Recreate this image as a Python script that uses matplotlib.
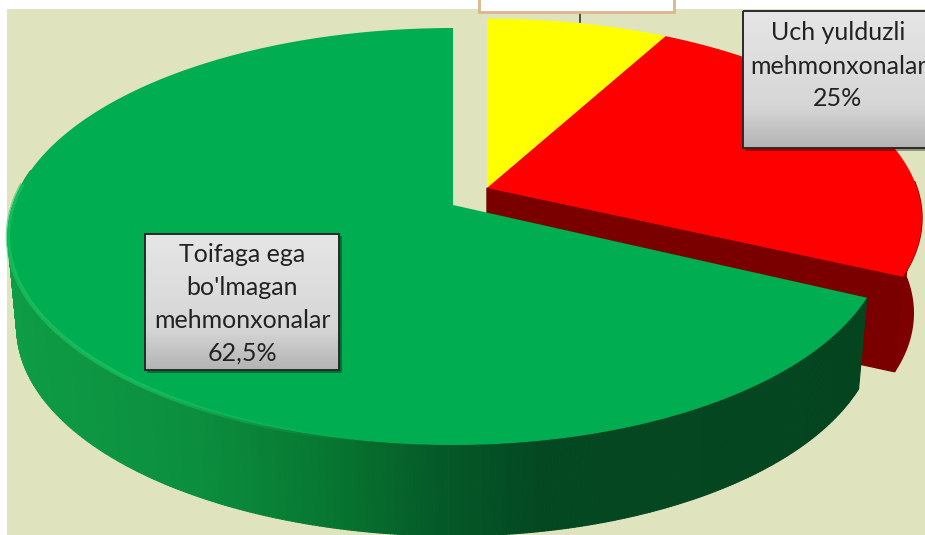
import numpy as np
import matplotlib
matplotlib.use("Agg")
import matplotlib.pyplot as plt
from matplotlib.colors import LinearSegmentedColormap, to_rgb
from matplotlib.patches import Polygon, Rectangle
from matplotlib.collections import PolyCollection, LineCollection

# Slice extents (percent of the drawn turn), clockwise from 12 o'clock
categories = ["Yellow slice", "Uch yulduzli mehmonxonalar", "Toifaga ega bo'lmagan mehmonxonalar"]
drawn_shares = [7.8, 24.2, 68.0]
slice_colors = ["#FFFF00", "#FF0000", "#00AD50"]
label_uch = ["Uch yulduzli", "mehmonxonalar", "25%"]
label_toifa = ["Toifaga ega", "bo'lmagan", "mehmonxonalar", "62,5%"]

W, H = 925, 535
plt.rcParams["font.family"] = ["Lato", "DejaVu Sans"]
fig = plt.figure(figsize=(W / 100, H / 100), dpi=100, facecolor="white")
ax = fig.add_axes([0, 0, 1, 1])
ax.set_axis_off()

K = 0.151
DEPTH = 91
RED_DEPTH = 95
NARROW = 0.98


def project(theta, cx, cy, rl, rr, s):
    t = np.radians(theta)
    u, v = np.cos(t), np.sin(t)
    den = 1 + K * v
    r = np.where(u > 0, rr, rl)
    return cx + r * u / den, cy - s * v / den


def extrude(x, y, cx, depth=DEPTH):
    return cx + (x - cx) * NARROW, y + depth


def arc(a, b, n=240):
    return np.linspace(a, b, n)


edges = 90 - np.cumsum([0] + drawn_shares) * 3.6

ax.add_patch(Rectangle((7, 9), W, H, fc="#DFE4BF", ec="none", zorder=0))

MAIN = dict(cx=487, cy=188, rl=430, rr=430, s=195)
GREEN = dict(cx=453, cy=205, rl=440, rr=428, s=203.7)

# red side walls
th = arc(edges[2], max(edges[1] - 60, 0))
xr, yr = project(th, **MAIN)
bx, by = extrude(xr, yr, MAIN["cx"], RED_DEPTH)
ax.add_patch(Polygon(np.r_[np.c_[xr, yr], np.c_[bx, by][::-1]], fc="#7F0000", ec="#7F0000", zorder=1))
x0, y0 = project(np.array(edges[2]), **MAIN)
bx0, by0 = extrude(x0, y0, MAIN["cx"], RED_DEPTH)
ax.add_patch(Polygon([(MAIN["cx"], MAIN["cy"]), (x0, y0), (bx0, by0), (MAIN["cx"], MAIN["cy"] + RED_DEPTH)],
                     fc="#7A0000", ec="#7A0000", zorder=1))

# yellow and red top faces
for i in (0, 1):
    th = arc(edges[i], edges[i + 1])
    x, y = project(th, **MAIN)
    ax.add_patch(Polygon(np.r_[[(MAIN["cx"], MAIN["cy"])], np.c_[x, y]], fc=slice_colors[i], ec="none", zorder=2))

# green side wall with a left-to-right shade
shade = LinearSegmentedColormap.from_list(
    "side", [(0, "#0E9C46"), (0.22, "#0B8E3E"), (0.38, "#077530"),
             (0.5, "#055A29"), (0.62, "#044822"), (1, "#04451F")])
th = arc(edges[2], -190, 400)
x, y = project(th, **GREEN)
bx, by = extrude(x, y, GREEN["cx"])
quads, cols = [], []
for j in range(len(th) - 1):
    quads.append([(x[j], y[j]), (x[j + 1], y[j + 1]), (bx[j + 1], by[j + 1]), (bx[j], by[j])])
    cols.append(shade(np.clip((x[j] - 8) / 860, 0, 1)))
ax.add_collection(PolyCollection(quads, facecolors=cols, edgecolors=cols, linewidths=0.8, zorder=3))

# green top face
th = arc(edges[2], edges[3], 500)
x, y = project(th, **GREEN)
ax.add_patch(Polygon(np.r_[[(GREEN["cx"], GREEN["cy"])], np.c_[x, y]], fc=slice_colors[2], ec="none", zorder=4))

# pale rim on the front-left edge of the green face
rim = arc(-100, -186, 200)
xr, yr = project(rim, **GREEN)
segs = np.stack([np.c_[xr[:-1], yr[:-1]], np.c_[xr[1:], yr[1:]]], axis=1)
fade = np.clip(np.linspace(0, 3, len(segs)), 0, 1)
base = to_rgb("#22C966")
ax.add_collection(LineCollection(segs, colors=[(*base, 0.6 * f) for f in fade], linewidths=3.2, zorder=5))


def label_box(x0, y0, x1, y1, top="#E6E6E6", bottom="#B4B4B4"):
    ax.add_patch(Rectangle((x0 + 2, y0 + 2), x1 - x0 + 1, y1 - y0 + 1, fc="black", alpha=0.35, ec="none", zorder=6))
    cm = LinearSegmentedColormap.from_list("box", [(0, top), (0.7, "#D6D6D6"), (1, bottom)])
    ax.imshow(np.linspace(0, 1, 100)[:, None], cmap=cm, extent=(x0, x1, y1, y0), aspect="auto", zorder=7)
    ax.add_patch(Rectangle((x0, y0), x1 - x0, y1 - y0, fc="none", ec="#2A2A2A", lw=1.4, zorder=8))


label_box(145, 234, 339, 370)
for line, yy in zip(label_toifa, [254.5, 287.5, 320.5, 353.5]):
    ax.text(242, yy, line, ha="center", va="center", fontsize=18, color="#222222", zorder=9)

label_box(743, 11, 940, 148)
for line, yy in zip(label_uch, [32, 66, 98]):
    ax.text(838, yy, line, ha="center", va="center", fontsize=18, color="#222222", zorder=9)

# top label, cut by the image edge, and its leader
ax.plot([580, 580], [13, 22], color="#333333", lw=1.2, zorder=6)
ax.add_patch(Rectangle((479, -10), 195, 22, fc="white", ec="#DDB68C", lw=2, zorder=7))

ax.set_xlim(0, W)
ax.set_ylim(H, 0)
fig.savefig("out.png", dpi=100, facecolor="white")
